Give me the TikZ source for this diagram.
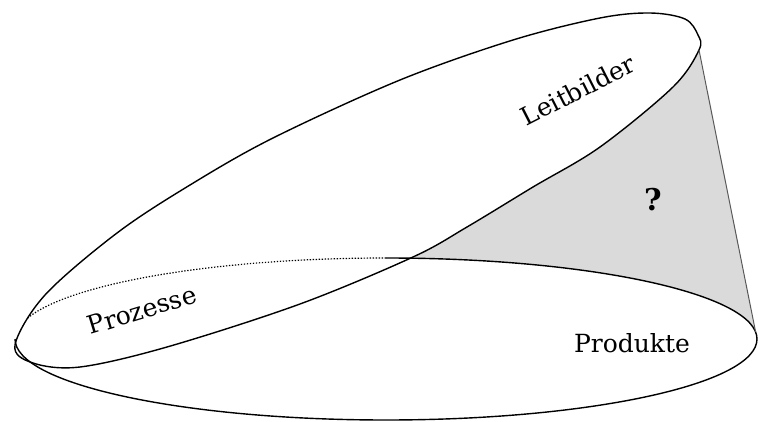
\documentclass[tikz,border=0pt]{standalone}
\usepackage{fontspec}
\setmainfont{DejaVu Serif}
\definecolor{shadegray}{RGB}{218,218,218}
\begin{document}
\begin{tikzpicture}[x=1pt,y=1pt,line width=1.4pt,line join=round,
  lbl/.style={font=\fontsize{25}{30}\selectfont,inner sep=0pt},
  dotline/.style={line width=1.2pt,dash pattern=on 1.3pt off 1.7pt}]
\useasboundingbox (0,0) rectangle (758,421);
% shaded region between the two ellipses
\fill[shadegray] (386,163) -- (699,371) -- (755.6,89.1)
  arc[start angle=5,end angle=90,x radius=371pt,y radius=81pt] -- cycle;
% tilted ellipse (Leitbilder / Prozesse)
\draw[fill=white] plot[smooth cycle,tension=0.55] coordinates {
  (15,76) (45,126) (117,188) (190,236) (273,283) (400,341) (513,381)
  (600,403) (650,408) (685,402) (698,386) (699,371) (673,334) (600,274)
  (533,234) (467,194) (413,164) (300,117) (167,74) (80,54) (33,58)};
% flat ellipse (Produkte)
\draw (386,163) arc[start angle=90,end angle=-180,x radius=371pt,y radius=81pt];
\draw[dotline] (386,163) arc[start angle=90,end angle=165,x radius=371pt,y radius=81pt];
% right edge line
\draw[black!65,line width=1pt] (699,371) -- (755.6,89.1);
% labels
\node[lbl,rotate=27] (leit) at (578,331) {Leitbilder};
\node[lbl,rotate=17] (proz) at (142,111) {Prozesse};
\node[lbl] (prod) at (632,78) {Produkte};
\node[lbl,font=\fontsize{30}{34}\selectfont\bfseries] (q) at (653,221) {?};
\end{tikzpicture}
\end{document}
